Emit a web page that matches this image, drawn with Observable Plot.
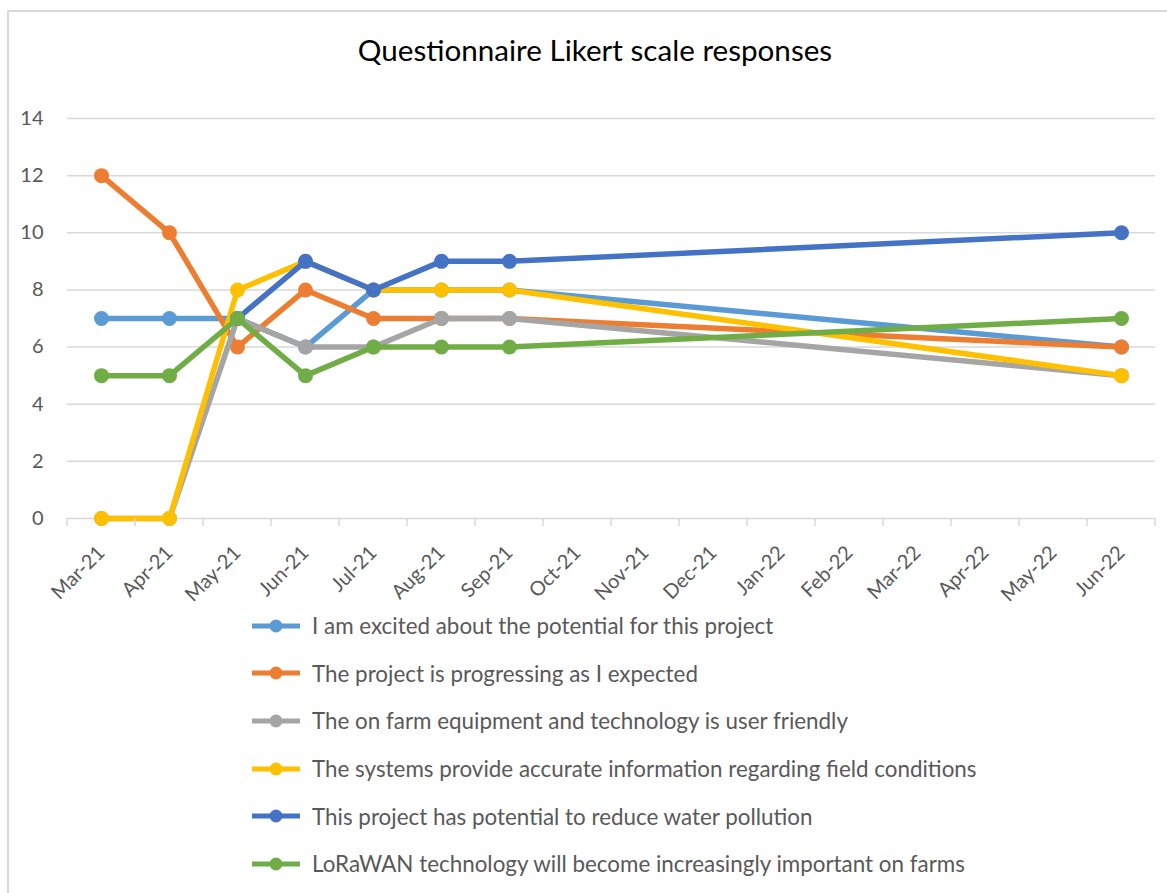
<!DOCTYPE html>
<html>
<head>
<meta charset="utf-8">
<script src="https://cdn.jsdelivr.net/npm/d3@7"></script>
<script src="https://cdn.jsdelivr.net/npm/@observablehq/plot@0.6"></script>
<style>
  html, body { margin: 0; padding: 0; background: #fff; }
  #wrap { position: relative; width: 1167px; height: 893px; overflow: hidden; font-family: Lato, "Open Sans", sans-serif; }
  #frame { position: absolute; left: 7px; top: 10px; width: 1200px; height: 950px; border: 2px solid #d9d9d9; box-sizing: border-box; }
  #title { position: absolute; left: 0; width: 1190px; top: 32px; text-align: center; font-size: 29.6px; color: #000; }
  #chart { position: absolute; left: 0; top: 0; }
  #legend { position: absolute; left: 252px; top: 602px; }
  .item { display: flex; align-items: center; height: 47.6px; font-size: 22.4px; color: #595959; white-space: nowrap; }
  .item svg { margin-right: 12px; flex: none; }
</style>
</head>
<body>
<div id="wrap">
  <div id="frame"></div>
  <div id="title">Questionnaire Likert scale responses</div>
  <div id="chart"></div>
  <div id="legend"></div>
</div>
<script>
// ---- data ----
const months = ["Mar-21","Apr-21","May-21","Jun-21","Jul-21","Aug-21","Sep-21","Oct-21","Nov-21","Dec-21","Jan-22","Feb-22","Mar-22","Apr-22","May-22","Jun-22"];
const surveyMonths = ["Mar-21","Apr-21","May-21","Jun-21","Jul-21","Aug-21","Sep-21","Jun-22"];
const seriesNames = [
  "I am excited about the potential for this project",
  "The project is progressing as I expected",
  "The on farm equipment and technology is user friendly",
  "The systems provide accurate information regarding field conditions",
  "This project has potential to reduce water pollution",
  "LoRaWAN technology will become increasingly important on farms"
];
const excited        = [7, 7, 7, 6, 8, 8, 8, 6];
const progressing    = [12, 10, 6, 8, 7, 7, 7, 6];
const userFriendly   = [0, 0, 7, 6, 6, 7, 7, 5];
const accurate       = [0, 0, 8, 9, 8, 8, 8, 5];
const waterPollution = [null, null, 7, 9, 8, 9, 9, 10];
const lorawan        = [5, 5, 7, 5, 6, 6, 6, 7];
const colors = ["#5B9BD5", "#ED7D31", "#A5A5A5", "#FFC000", "#4472C4", "#70AD47"];
const yTicks = [0, 2, 4, 6, 8, 10, 12, 14];

const seriesValues = [excited, progressing, userFriendly, accurate, waterPollution, lorawan];
const series = seriesNames.map((name, i) => ({
  name, color: colors[i],
  data: surveyMonths.map((m, j) => ({month: m, value: seriesValues[i][j]})).filter(d => d.value != null)
}));

const marks = [
  Plot.gridY(yTicks.filter(t => t > 0), {stroke: "#d9d9d9", strokeOpacity: 1, strokeWidth: 1.5}),
  Plot.ruleY([0], {stroke: "#d9d9d9", strokeWidth: 1.5}),
  Plot.axisY(yTicks, {tickSize: 0, tickPadding: 24, fontSize: 20, fill: "#595959", label: null}),
  Plot.axisX({tickSize: 0, tickPadding: 31, tickRotate: -45, fontSize: 20, fill: "#595959", label: null})
];
for (const s of series) {
  marks.push(Plot.line(s.data, {x: "month", y: "value", stroke: s.color, strokeWidth: 5.5, strokeLinejoin: "round"}));
  marks.push(Plot.dot(s.data, {x: "month", y: "value", fill: s.color, r: 7.5}));
}

const plot = Plot.plot({
  width: 1167,
  height: 620,
  marginTop: 118,
  marginBottom: 102,
  marginLeft: 67,
  marginRight: 12,
  style: {background: "transparent", fontFamily: "Lato, 'Open Sans', sans-serif", overflow: "visible"},
  x: {type: "point", domain: months, padding: 0.5},
  y: {domain: [0, 14]},
  marks
});
document.getElementById("chart").appendChild(plot);

// tick marks at category boundaries, from the x scale
const xs = plot.scale("x");
const ys = plot.scale("y");
const step = xs.apply(months[1]) - xs.apply(months[0]);
const boundaries = months.map(m => xs.apply(m) - step / 2).concat([xs.apply(months[months.length - 1]) + step / 2]);
const y0 = ys.apply(0);
d3.select(plot).append("g").selectAll("line").data(boundaries).join("line")
  .attr("x1", d => d).attr("x2", d => d).attr("y1", y0).attr("y2", y0 + 8)
  .attr("stroke", "#d9d9d9").attr("stroke-width", 1.5);

// legend
const legend = d3.select("#legend");
series.forEach(s => {
  const item = legend.append("div").attr("class", "item");
  const sv = item.append("svg").attr("width", 48).attr("height", 16);
  sv.append("line").attr("x1", 0).attr("x2", 48).attr("y1", 8).attr("y2", 8).attr("stroke", s.color).attr("stroke-width", 5);
  sv.append("circle").attr("cx", 24).attr("cy", 8).attr("r", 6.5).attr("fill", s.color);
  item.append("span").text(s.name);
});
</script>
</body>
</html>
